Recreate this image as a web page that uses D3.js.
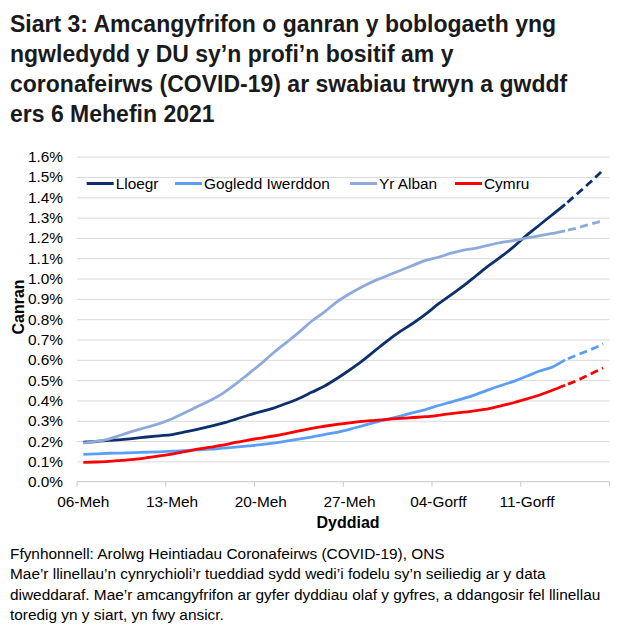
<!DOCTYPE html>
<html>
<head>
<meta charset="utf-8">
<script src="https://cdn.jsdelivr.net/npm/d3@7"></script>
<style>
    body { margin: 0; background: #fff; }
    text { font-family: "Liberation Sans", Arial, sans-serif; fill: #000; }
</style>
</head>
<body>
<script>
const days = [
    '06-Meh', '07-Meh', '08-Meh', '09-Meh', '10-Meh', '11-Meh', '12-Meh',
    '13-Meh', '14-Meh', '15-Meh', '16-Meh', '17-Meh', '18-Meh', '19-Meh',
    '20-Meh', '21-Meh', '22-Meh', '23-Meh', '24-Meh', '25-Meh', '26-Meh',
    '27-Meh', '28-Meh', '29-Meh', '30-Meh', '01-Gorff', '02-Gorff', '03-Gorff',
    '04-Gorff', '05-Gorff', '06-Gorff', '07-Gorff', '08-Gorff', '09-Gorff', '10-Gorff',
    '11-Gorff', '12-Gorff', '13-Gorff', '14-Gorff', '15-Gorff', '16-Gorff', '17-Gorff',
]

// percentages, one value per day
const lloegr = [
    0.195, 0.198, 0.203, 0.207, 0.213, 0.220, 0.226, 0.232, 0.245, 0.258,
    0.272, 0.288, 0.307, 0.327, 0.345, 0.362, 0.385, 0.410, 0.440, 0.470,
    0.508, 0.550, 0.595, 0.645, 0.695, 0.740, 0.780, 0.825, 0.875, 0.920,
    0.965, 1.015, 1.065, 1.110, 1.160, 1.215, 1.265, 1.315, 1.365, 1.420,
    1.475, 1.535,
]
const gogleddIwerddon = [
    0.135, 0.137, 0.140, 0.141, 0.143, 0.145, 0.147, 0.150, 0.153, 0.157,
    0.160, 0.165, 0.170, 0.176, 0.182, 0.190, 0.200, 0.210, 0.220, 0.232,
    0.243, 0.258, 0.275, 0.292, 0.308, 0.323, 0.340, 0.355, 0.375, 0.392,
    0.410, 0.430, 0.453, 0.475, 0.495, 0.520, 0.545, 0.565, 0.600, 0.625,
    0.650, 0.678,
]
const yrAlban = [
    0.190, 0.198, 0.210, 0.230, 0.250, 0.268, 0.286, 0.310, 0.340, 0.370,
    0.400, 0.435, 0.480, 0.530, 0.580, 0.635, 0.685, 0.735, 0.790, 0.835,
    0.885, 0.925, 0.960, 0.990, 1.015, 1.040, 1.065, 1.090, 1.105, 1.125,
    1.140, 1.150, 1.165, 1.178, 1.188, 1.200, 1.212, 1.222, 1.235, 1.250,
    1.268, 1.285,
]
const cymru = [
    0.095, 0.097, 0.100, 0.105, 0.110, 0.118, 0.127, 0.136, 0.148, 0.160,
    0.170, 0.180, 0.193, 0.205, 0.215, 0.225, 0.237, 0.250, 0.263, 0.273,
    0.282, 0.290, 0.297, 0.302, 0.307, 0.312, 0.316, 0.320, 0.327, 0.335,
    0.342, 0.350, 0.360, 0.375, 0.390, 0.408, 0.427, 0.450, 0.475, 0.500,
    0.530, 0.560,
]

const seriesNames = ['Lloegr', 'Gogledd Iwerddon', 'Yr Alban', 'Cymru']
const seriesColors = ['#0d2f6b', '#5b9ff5', '#8eaadc', '#ff0000']
const yTicks = [0, 0.1, 0.2, 0.3, 0.4, 0.5, 0.6, 0.7, 0.8, 0.9, 1.0, 1.1, 1.2, 1.3, 1.4, 1.5, 1.6]
const solidUntil = 38

const titleLines = [
    'Siart 3: Amcangyfrifon o ganran y boblogaeth yng',
    'ngwledydd y DU sy\u2019n profi\u2019n bositif am y',
    'coronafeirws (COVID-19) ar swabiau trwyn a gwddf',
    'ers 6 Mehefin 2021',
]
const footLines = [
    'Ffynhonnell: Arolwg Heintiadau Coronafeirws (COVID-19), ONS',
    'Mae\u2019r llinellau\u2019n cynrychioli\u2019r tueddiad sydd wedi\u2019i fodelu sy\u2019n seiliedig ar y data',
    'diweddaraf. Mae\u2019r amcangyfrifon ar gyfer dyddiau olaf y gyfres, a ddangosir fel llinellau',
    'toredig yn y siart, yn fwy ansicr.',
]

const plot = { left: 77, right: 609.5, top: 156.7, bottom: 481.7 }
const small = '15.4px'

const svg = d3.select('body').append('svg')
    .attr('width', 626)
    .attr('height', 634)

// title
svg.append('g').selectAll('text').data(titleLines)
    .enter().append('text')
    .attr('x', 10)
    .attr('y', (d, i) => 31.5 + i * 30.2)
    .attr('font-size', '23px')
    .attr('font-weight', 'bold')
    .style('fill', '#1a1a1a')
    .text(d => d)

const x = d3.scaleBand().domain(days).range([plot.left, plot.right]).paddingInner(0).paddingOuter(0)
const y = d3.scaleLinear().domain([0, 1.6]).range([plot.bottom, plot.top])
const cx = d => x(d) + x.bandwidth() / 2

// gridlines
svg.append('g')
    .attr('transform', `translate(${plot.left}, 0)`)
    .call(d3.axisLeft(y).tickValues(yTicks.slice(1)).tickSize(-(plot.right - plot.left)).tickFormat(''))
    .call(g => g.select('.domain').remove())
    .call(g => g.selectAll('line').attr('stroke', '#d9d9d9').attr('stroke-width', 1))

// y tick labels
svg.append('g')
    .attr('transform', `translate(${plot.left}, 0)`)
    .call(d3.axisLeft(y).tickValues(yTicks).tickSize(0).tickPadding(14).tickFormat(d => d.toFixed(1) + '%'))
    .call(g => g.select('.domain').remove())
    .call(g => g.selectAll('text').attr('font-size', small).attr('font-family', '"Liberation Sans", Arial, sans-serif').attr('fill', '#000'))

// x axis line with ticks at week boundaries
const tickDays = days.filter((d, i) => i % 7 === 0)
const xAxis = svg.append('g').attr('transform', `translate(0, ${plot.bottom})`)
xAxis.append('line')
    .attr('x1', plot.left).attr('x2', plot.right)
    .attr('stroke', '#c8c8c8').attr('stroke-width', 1)
xAxis.selectAll('.tk').data(tickDays.map(d => x(d)).concat([plot.right]))
    .enter().append('line')
    .attr('class', 'tk')
    .attr('x1', d => d).attr('x2', d => d)
    .attr('y1', 0).attr('y2', 5)
    .attr('stroke', '#c8c8c8').attr('stroke-width', 1)
xAxis.selectAll('text').data(tickDays)
    .enter().append('text')
    .attr('x', d => cx(d))
    .attr('y', 25.5)
    .attr('text-anchor', 'middle')
    .attr('font-size', small)
    .text(d => d)

// axis titles
svg.append('text')
    .attr('transform', 'rotate(-90)')
    .attr('x', -307)
    .attr('y', 23.5)
    .attr('text-anchor', 'middle')
    .attr('font-size', '16px')
    .attr('font-weight', 'bold')
    .text('Canran')
svg.append('text')
    .attr('x', 348)
    .attr('y', 527.5)
    .attr('text-anchor', 'middle')
    .attr('font-size', '16px')
    .attr('font-weight', 'bold')
    .text('Dyddiad')

// lines
const allSeries = [lloegr, gogleddIwerddon, yrAlban, cymru]
const line = d3.line()
    .x(d => cx(d.day))
    .y(d => y(d.v))
    .curve(d3.curveMonotoneX)

const lines = svg.append('g').attr('class', 'line-total')
allSeries.map((vals, k) => {
    const pts = vals.map((v, i) => ({ day: days[i], v }))
    lines.append('path')
        .attr('d', line(pts.slice(0, solidUntil + 1)))
        .attr('fill', 'none')
        .attr('stroke', seriesColors[k])
        .attr('stroke-width', 2.8)
        .attr('stroke-linejoin', 'round')
    lines.append('path')
        .attr('d', line(pts.slice(solidUntil)))
        .attr('fill', 'none')
        .attr('stroke', seriesColors[k])
        .attr('stroke-width', 2.8)
        .attr('stroke-dasharray', '8,4.5')
        .attr('stroke-dashoffset', -3)
})

// legend
const legendX = [86.7, 175, 350, 455]
const legend = svg.append('g').attr('class', 'legend')
seriesNames.map((name, i) => {
    legend.append('line')
        .attr('x1', legendX[i]).attr('x2', legendX[i] + 27)
        .attr('y1', 183.5).attr('y2', 183.5)
        .attr('stroke', seriesColors[i])
        .attr('stroke-width', 3)
    legend.append('text')
        .attr('x', legendX[i] + 29)
        .attr('y', 189)
        .attr('font-size', small)
        .text(name)
})

// footnotes
svg.append('g').selectAll('text').data(footLines)
    .enter().append('text')
    .attr('x', 10)
    .attr('y', (d, i) => 558.5 + i * 20.5)
    .attr('font-size', small)
    .text(d => d)
</script>
</body>
</html>
